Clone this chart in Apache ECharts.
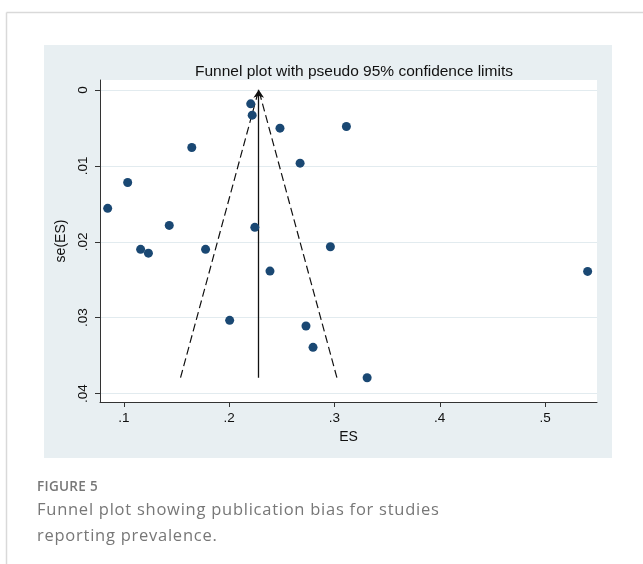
<!DOCTYPE html>
<html><head><meta charset="utf-8">
<script src="https://cdn.jsdelivr.net/npm/echarts@6/dist/echarts.min.js"></script>
<style>
html,body{margin:0;padding:0;background:#fff;}
#wrap{position:relative;width:643px;height:564px;overflow:hidden;}
#c{position:absolute;left:0;top:0;width:643px;height:564px;}
.cap{position:absolute;left:37px;font-family:"Open Sans",sans-serif;color:#777;white-space:nowrap;}
#fig{top:477px;font-size:13.5px;font-weight:600;letter-spacing:0.3px;}
#desc{top:496px;font-size:16.5px;line-height:25.5px;letter-spacing:0.75px;}
</style>
</head><body><div id="wrap"><div id="c"></div>
<div class="cap" id="fig">FIGURE 5</div>
<div class="cap" id="desc">Funnel plot showing publication bias for studies<br>reporting prevalence.</div>
</div>
<script>
// Study estimates: ES and se(ES)
const esValues = [0.2204,0.2218,0.2482,0.3113,0.1644,0.2673,0.1035,0.0845,0.1430,0.2243,0.1158,0.1232,0.1775,0.2961,0.2387,0.5405,0.2004,0.2729,0.2796,0.3310];
const seValues = [0.00184,0.00333,0.00504,0.00482,0.00759,0.00965,0.0122,0.0156,0.01785,0.0181,0.0210,0.0215,0.0210,0.02066,0.02386,0.0239,0.03035,0.0311,0.0339,0.0379];
const pooledES = 0.228;
const seMax = 0.0379;
const xTicks = [0.1,0.2,0.3,0.4,0.5];
const yTicks = [0,0.01,0.02,0.03,0.04];
const titleText = 'Funnel plot with pseudo 95% confidence limits';

const fmt = v => (Math.abs(v) < 1e-12 ? '0' : String(+v.toFixed(3)).replace(/^0/, ''));
const points = esValues.map((x,i)=>[x, seValues[i]]);
const lo = pooledES - 1.96*seMax, hi = pooledES + 1.96*seMax;

const chart = echarts.init(document.getElementById('c'), null, {renderer:'canvas'});
chart.setOption({
  animation:false,
  backgroundColor:'transparent',
  graphic:[
    {type:'line', shape:{x1:6.5,y1:12.5,x2:643,y2:12.5}, style:{stroke:'#d9d9d9',lineWidth:1.5}, z:-10},
    {type:'line', shape:{x1:6.5,y1:12.5,x2:6.5,y2:564}, style:{stroke:'#d9d9d9',lineWidth:1.5}, z:-10},
    {type:'rect', shape:{x:44,y:45,width:568,height:413}, style:{fill:'#e8eff2'}, z:-10}
  ],
  title:{text:titleText, left:349, top:59, textAlign:'center',
    textStyle:{fontFamily:'Liberation Sans', fontSize:15.5, fontWeight:'normal', color:'#111'}},
  grid:{left:100, top:80, right:46, bottom:162, show:true, backgroundColor:'#fff', borderWidth:0},
  xAxis:{type:'value', min:0.0772, max:0.5494,
    name:'ES', nameLocation:'middle', nameGap:27,
    nameTextStyle:{fontFamily:'Liberation Sans', fontSize:14, color:'#111'},
    axisLine:{show:true, onZero:false, lineStyle:{color:'#333', width:1}},
    axisTick:{show:true, length:5, customValues:xTicks, lineStyle:{color:'#333'}},
    axisLabel:{customValues:xTicks, formatter:fmt, margin:9, fontFamily:'Liberation Sans', fontSize:13.5, color:'#111'},
    splitLine:{show:false}},
  yAxis:{type:'value', inverse:true, min:-0.0013, max:0.0411,
    name:'se(ES)', nameLocation:'middle', nameGap:27, nameRotate:90,
    nameTextStyle:{fontFamily:'Liberation Sans', fontSize:14, color:'#111'},
    axisLine:{show:true, onZero:false, lineStyle:{color:'#333', width:1}},
    axisTick:{show:true, length:5, customValues:yTicks, lineStyle:{color:'#333'}},
    axisLabel:{customValues:yTicks, formatter:fmt, rotate:90, margin:10, fontFamily:'Liberation Sans', fontSize:13.5, color:'#111'},
    splitLine:{show:true, lineStyle:{color:'#e2ebef', width:1}}},
  series:[
    {type:'line', data:[[lo, seMax],[pooledES,0]], symbol:'none', lineStyle:{color:'#111', width:1.2, type:[8,4]}, z:2},
    {type:'line', data:[[hi, seMax],[pooledES,0]], symbol:'none', lineStyle:{color:'#111', width:1.2, type:[8,4]}, z:2},
    {type:'lines', coordinateSystem:'cartesian2d', data:[{coords:[[pooledES, seMax],[pooledES,0]]}],
      symbol:['none','arrow'], symbolSize:8, lineStyle:{color:'#111', width:1.3, opacity:1}, z:2},
    {type:'scatter', data:points, symbolSize:9, itemStyle:{color:'#1a4873', opacity:1}, z:3}
  ]
});
</script></body></html>
